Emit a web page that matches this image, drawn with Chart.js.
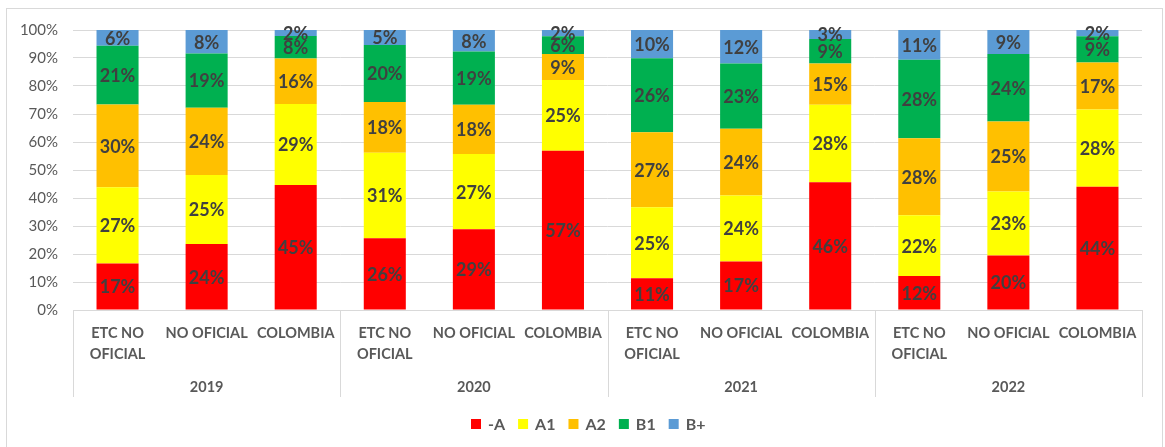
<!DOCTYPE html>
<html>
<head>
<meta charset="utf-8">
<script src="https://cdn.jsdelivr.net/npm/chart.js@4.4.1/dist/chart.umd.min.js"></script>
<style>
  html, body { margin: 0; padding: 0; background: #ffffff; }
  #wrap { width: 1165px; height: 447px; }
</style>
</head>
<body>
<div id="wrap"><canvas id="c" width="1165" height="447"></canvas></div>
<script>
// ---- data ----
const categories = [
  ['ETC NO', 'OFICIAL'], 'NO OFICIAL', 'COLOMBIA',
  ['ETC NO', 'OFICIAL'], 'NO OFICIAL', 'COLOMBIA',
  ['ETC NO', 'OFICIAL'], 'NO OFICIAL', 'COLOMBIA',
  ['ETC NO', 'OFICIAL'], 'NO OFICIAL', 'COLOMBIA'
];
const years = ['2019', '2020', '2021', '2022'];
const seriesNames = ['-A', 'A1', 'A2', 'B1', 'B+'];
const valsAminus = [16.6, 23.6, 44.6, 25.6, 28.8, 56.9, 11.3, 17.3, 45.6, 12.1, 19.5, 44.0];
const valsA1     = [27.2, 24.6, 29.0, 30.6, 26.9, 25.2, 25.4, 23.6, 27.7, 21.7, 22.8, 27.6];
const valsA2     = [29.6, 24.0, 16.2, 18.1, 17.6,  9.3, 26.8, 23.8, 14.7, 27.5, 25.0, 16.8];
const valsB1     = [21.0, 19.4,  8.1, 20.3, 19.0,  6.4, 26.4, 23.3,  8.8, 28.1, 24.1,  9.4];
const valsBplus  = [ 5.6,  8.4,  2.1,  5.4,  7.7,  2.2, 10.1, 12.0,  3.2, 10.6,  8.6,  2.2];
const yTicks = [0, 10, 20, 30, 40, 50, 60, 70, 80, 90, 100];

const seriesColors = ['#FF0000', '#FFFF00', '#FFC000', '#00B050', '#5B9BD5'];
const allVals = [valsAminus, valsA1, valsA2, valsB1, valsBplus];

const FONT = 'Lato, "Open Sans", "Liberation Sans", sans-serif';
const GRID = '#D9D9D9';
const TEXT = '#595959';

const decorPlugin = {
  id: 'decor',
  beforeDraw(chart) {
    const ctx = chart.ctx;
    ctx.save();
    ctx.fillStyle = '#ffffff';
    ctx.fillRect(0, 0, chart.width, chart.height);
    ctx.strokeStyle = GRID;
    ctx.lineWidth = 1;
    ctx.strokeRect(6.5, 8.5, 1156, 460);
    ctx.restore();
  },
  afterDatasetsDraw(chart) {
    const ctx = chart.ctx;
    ctx.save();
    ctx.font = 'bold 18px ' + FONT;
    ctx.fillStyle = '#404040';
    ctx.textAlign = 'center';
    ctx.textBaseline = 'middle';
    chart.data.datasets.forEach((ds, di) => {
      const meta = chart.getDatasetMeta(di);
      meta.data.forEach((bar, i) => {
        const v = ds.data[i];
        const cy = (bar.y + bar.base) / 2;
        ctx.fillText(Math.round(v) + '%', bar.x, cy + 1);
      });
    });
    ctx.restore();
  },
  afterDraw(chart) {
    const ctx = chart.ctx;
    const xs = chart.scales.x;
    const bottom = chart.chartArea.bottom;
    const groupW = (xs.right - xs.left) / years.length;
    ctx.save();
    ctx.strokeStyle = GRID;
    ctx.lineWidth = 1;
    for (let k = 0; k <= years.length; k++) {
      const x = Math.round(xs.left + k * groupW) + 0.5;
      ctx.beginPath();
      ctx.moveTo(x, bottom);
      ctx.lineTo(x, bottom + 87);
      ctx.stroke();
    }
    ctx.font = 'bold 14.5px ' + FONT;
    ctx.fillStyle = TEXT;
    ctx.textAlign = 'center';
    ctx.textBaseline = 'middle';
    years.forEach((y, k) => {
      ctx.fillText(y, xs.left + (k + 0.5) * groupW, bottom + 77);
    });

    // legend
    ctx.font = 'bold 16px ' + FONT;
    ctx.textAlign = 'left';
    const box = 10, gapText = 7, gapItem = 13;
    const widths = seriesNames.map(n => ctx.measureText(n).width);
    let total = 0;
    widths.forEach((w, i) => { total += box + gapText + w + (i < widths.length - 1 ? gapItem : 0); });
    let x = Math.round(588 - total / 2);
    const cy = bottom + 114;
    seriesNames.forEach((n, i) => {
      ctx.fillStyle = seriesColors[i];
      ctx.fillRect(x, cy - 5, box, box);
      ctx.fillStyle = TEXT;
      ctx.fillText(n, x + box + gapText, cy + 1);
      x += box + gapText + widths[i] + gapItem;
    });
    ctx.restore();
  }
};

new Chart(document.getElementById('c'), {
  type: 'bar',
  data: {
    labels: categories,
    datasets: seriesNames.map((n, i) => ({
      label: n,
      data: allVals[i],
      backgroundColor: seriesColors[i],
      borderWidth: 0,
      barPercentage: 0.472,
      categoryPercentage: 1.0
    }))
  },
  options: {
    responsive: false,
    devicePixelRatio: 1,
    animation: false,
    layout: { padding: { left: 0, right: 23, top: 30, bottom: 45 } },
    plugins: {
      legend: { display: false },
      tooltip: { enabled: false }
    },
    scales: {
      x: {
        stacked: true,
        grid: { display: false },
        border: { display: true, color: GRID },
        ticks: {
          color: TEXT,
          autoSkip: false,
          maxRotation: 0,
          minRotation: 0,
          padding: 5,
          font: { family: FONT, size: 14.5, weight: 'bold', lineHeight: 1.45 }
        },
        afterFit(scale) { scale.height = 92; }
      },
      y: {
        stacked: true,
        min: 0,
        max: 100,
        afterBuildTicks(scale) { scale.ticks = yTicks.map(v => ({ value: v })); },
        grid: { color: GRID, drawTicks: false },
        border: { display: false },
        ticks: {
          color: TEXT,
          padding: 15,
          font: { family: FONT, size: 15 },
          callback: v => v + '%'
        },
        afterFit(scale) { scale.width = 73; }
      }
    }
  },
  plugins: [decorPlugin]
});
</script>
</body>
</html>
